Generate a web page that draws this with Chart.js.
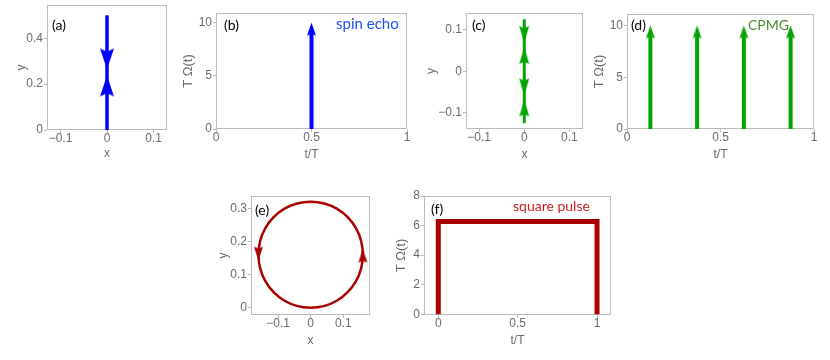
<!DOCTYPE html>
<html>
<head>
<meta charset="utf-8">
<script src="https://cdn.jsdelivr.net/npm/chart.js@4"></script>
<style>
  body { margin: 0; background: #fff; width: 830px; height: 360px; position: relative; overflow: hidden; }
  canvas { position: absolute; }
  .lbl { position: absolute; font-family: Lato, sans-serif; font-size: 14px; line-height: 14px; white-space: nowrap; color: #000; }
</style>
</head>
<body>
<script>
// ---- data ----
const symTicks = [-0.1, 0, 0.1];
const timeTicks = [0, 0.5, 1];
const pulseTicks = [0, 5, 10];

// (a) spin echo trajectory
const aYTicks = [0, 0.2, 0.4];
const aPath = [{x: 0, y: 0}, {x: 0, y: 0.5}];
const aHeadsUp = [{x: 0, y: 0.238}];
const aHeadsDown = [{x: 0, y: 0.264}];

// (b) spin echo pulse
const bPulseT = [0.5];
const bStemTop = 9.2;
const bTip = 10;

// (c) CPMG trajectory
const cYTicks = [-0.1, 0, 0.1];
const cPath = [{x: 0, y: -0.125}, {x: 0, y: 0.125}];
const cHeadsUp = [{x: 0, y: 0.058}, {x: 0, y: -0.068}];
const cHeadsDown = [{x: 0, y: 0.068}, {x: 0, y: -0.058}];

// (d) CPMG pulses
const dPulseT = [0.125, 0.375, 0.625, 0.875];
const dStemTop = 9.2;
const dTip = 10;

// (e) square pulse trajectory (circle, read at 12 points, wrapped)
const eYTicks = [0, 0.1, 0.2, 0.3];
const eCircle = [
  {x: -0.08, y: 0.021}, {x: 0, y: 0}, {x: 0.08, y: 0.021}, {x: 0.139, y: 0.08},
  {x: 0.16, y: 0.16}, {x: 0.139, y: 0.24}, {x: 0.08, y: 0.299}, {x: 0, y: 0.32},
  {x: -0.08, y: 0.299}, {x: -0.139, y: 0.24}, {x: -0.16, y: 0.16}, {x: -0.139, y: 0.08},
  {x: -0.08, y: 0.021}, {x: 0, y: 0}, {x: 0.08, y: 0.021}
];
const eHeadsUp = [{x: 0.16, y: 0.178}];
const eHeadsDown = [{x: -0.16, y: 0.142}];

// (f) square pulse
const fYTicks = [0, 2, 4, 6, 8];
const fPulse = [{x: 0, y: 0}, {x: 0, y: 6.28}, {x: 1, y: 6.28}, {x: 1, y: 0}];

// ---- styles ----
const BLUE = '#0000ff', GREEN = '#00a600', RED = '#aa0000';
const GRAY = '#6b6b6b', FRAME = '#bababa';

function head(w, h, color) {
  // arrowhead image, tip in the centre, pointing up
  const c = document.createElement('canvas');
  c.width = Math.ceil(w) + 2;
  c.height = 2 * Math.ceil(h) + 2;
  const g = c.getContext('2d');
  const cx = c.width / 2, cy = c.height / 2;
  g.fillStyle = color;
  g.beginPath();
  g.moveTo(cx, cy);
  g.lineTo(cx + w / 2, cy + h);
  g.lineTo(cx, cy + h * 0.85);
  g.lineTo(cx - w / 2, cy + h);
  g.closePath();
  g.fill();
  return c;
}

function heads(data, img, down) {
  return {data: data, showLine: false, pointStyle: img, pointRotation: down ? 180 : 0, pointRadius: 5};
}
function path(data, color, width, tension) {
  return {data: data, borderColor: color, borderWidth: width, pointRadius: 0, tension: tension || 0,
          fill: false, borderCapStyle: 'butt', borderJoinStyle: 'miter'};
}
function stems(ts, top, color, width) {
  return ts.map(t => path([{x: t, y: 0}, {x: t, y: top}], color, width));
}
function loop(data, color, width, tension) {
  // the first and last segments only exist to give the spline its end tangents
  const ds = path(data, color, width, tension);
  const last = data.length - 1;
  ds.borderCapStyle = 'round';
  ds.segment = {borderColor: c => (c.p0DataIndex === 0 || c.p1DataIndex === last) ? 'rgba(0,0,0,0)' : color};
  return ds;
}

const headA = head(14, 21, BLUE);
const headB = head(9, 13, BLUE);
const headC = head(10, 17, GREEN);
const headD = head(9, 13, GREEN);
const headE = head(9, 14, RED);

const panels = [
  {L: 47, T: 5, R: 167, B: 130, xMin: -0.129, xMax: 0.129, yMin: 0, yMax: 0.545,
   xt: symTicks, yt: aYTicks, xTitle: 'x', yTitle: 'y', yOff: 26, xOff: 24,
   datasets: [heads(aHeadsUp, headA, false), heads(aHeadsDown, headA, true), path(aPath, BLUE, 3.5)]},
  {L: 216, T: 13, R: 407, B: 129, xMin: 0, xMax: 1, yMin: 0, yMax: 10.9,
   xt: timeTicks, yt: pulseTicks, xTitle: 't/T', yTitle: 'T \u03A9(t)', yOff: 28, xOff: 26,
   datasets: [heads(bPulseT.map(t => ({x: t, y: bTip})), headB, false)].concat(stems(bPulseT, bStemTop, BLUE, 4))},
  {L: 466, T: 13, R: 583, B: 129, xMin: -0.129, xMax: 0.13, yMin: -0.139, yMax: 0.14,
   xt: symTicks, yt: cYTicks, xTitle: 'x', yTitle: 'y', yOff: 35, xOff: 26,
   datasets: [heads(cHeadsUp, headC, false), heads(cHeadsDown, headC, true), path(cPath, GREEN, 3)]},
  {L: 627, T: 14, R: 814, B: 129, xMin: 0, xMax: 1, yMin: 0, yMax: 11.1,
   xt: timeTicks, yt: pulseTicks, xTitle: 't/T', yTitle: 'T \u03A9(t)', yOff: 28, xOff: 26,
   datasets: [heads(dPulseT.map(t => ({x: t, y: dTip})), headD, false)].concat(stems(dPulseT, dStemTop, GREEN, 4))},
  {L: 251, T: 196, R: 370, B: 315, xMin: -0.183, xMax: 0.182, yMin: -0.022, yMax: 0.337,
   xt: symTicks, yt: eYTicks, xTitle: 'x', yTitle: 'y', yOff: 28, xOff: 26,
   datasets: [heads(eHeadsUp, headE, false), heads(eHeadsDown, headE, true), loop(eCircle, RED, 2.5, 0.35)]},
  {L: 424, T: 196, R: 611, B: 315, xMin: -0.09, xMax: 1.088, yMin: -0.05, yMax: 8,
   xt: timeTicks, yt: fYTicks, xTitle: 't/T', yTitle: 'T \u03A9(t)', yOff: 23, xOff: 26,
   datasets: [path(fPulse, RED, 5)]}
];

const labels = [
  {text: '(a)', x: 52, y: 25},
  {text: '(b)', x: 224, y: 25},
  {text: 'spin echo', x: 336, y: 23, color: '#1f4fff', size: 15},
  {text: '(c)', x: 472, y: 25},
  {text: '(d)', x: 631, y: 25},
  {text: 'CPMG', x: 748, y: 25, color: '#4f8a36'},
  {text: '(e)', x: 255, y: 210},
  {text: '(f)', x: 431, y: 209},
  {text: 'square pulse', x: 513, y: 206, color: '#cc1f1f'}
];

const framePlugin = {
  id: 'frame',
  beforeDatasetsDraw(chart) {
    const {ctx, chartArea: a} = chart;
    ctx.save();
    ctx.strokeStyle = FRAME;
    ctx.lineWidth = 1;
    ctx.strokeRect(a.left + 0.5, a.top + 0.5, a.right - a.left - 1, a.bottom - a.top - 1);
    ctx.restore();
  }
};

function fmt(v) {
  return v === 0 ? '0' : String(v).replace('-', '\u2212');
}

function axis(isX, p, padL, padB) {
  const text = isX ? p.xTitle : p.yTitle;
  return {
    type: 'linear',
    min: isX ? p.xMin : p.yMin,
    max: isX ? p.xMax : p.yMax,
    afterBuildTicks: s => { s.ticks = (isX ? p.xt : p.yt).map(v => ({value: v})); },
    afterFit: s => { if (isX) s.height = padB; else s.width = padL; },
    ticks: {padding: isX ? 0 : 1, color: GRAY, font: {size: 12, lineHeight: 1}, maxRotation: 0, autoSkip: false, callback: fmt},
    grid: {drawOnChartArea: false, tickLength: 3, color: FRAME},
    border: {display: false},
    title: {display: true, text: text, color: GRAY, font: {size: text.length > 3 ? 13 : 12, lineHeight: 1.2}, padding: 0}
  };
}

Chart.defaults.font.family = "'Liberation Sans', Arial, sans-serif";

panels.forEach(p => {
  const padL = Math.round(p.yOff + 7), padB = Math.round(p.xOff + 7);
  const padT = 14, padR = 14;
  const cv = document.createElement('canvas');
  cv.width = p.R - p.L + padL + padR;
  cv.height = p.B - p.T + padT + padB;
  cv.style.left = (p.L - padL) + 'px';
  cv.style.top = (p.T - padT) + 'px';
  document.body.appendChild(cv);
  new Chart(cv, {
    type: 'line',
    data: {datasets: p.datasets},
    options: {
      responsive: false,
      animation: false,
      events: [],
      layout: {padding: {top: padT, right: padR, left: 0, bottom: 0}},
      plugins: {legend: {display: false}, tooltip: {enabled: false}},
      scales: {x: axis(true, p, padL, padB), y: axis(false, p, padL, padB)}
    },
    plugins: [framePlugin]
  });
});

labels.forEach(l => {
  const d = document.createElement('div');
  d.className = 'lbl';
  d.textContent = l.text;
  d.style.left = l.x + 'px';
  d.style.top = (l.y - 7) + 'px';
  if (l.color) d.style.color = l.color;
  if (l.size) d.style.fontSize = l.size + 'px';
  document.body.appendChild(d);
});
</script>
</body>
</html>
